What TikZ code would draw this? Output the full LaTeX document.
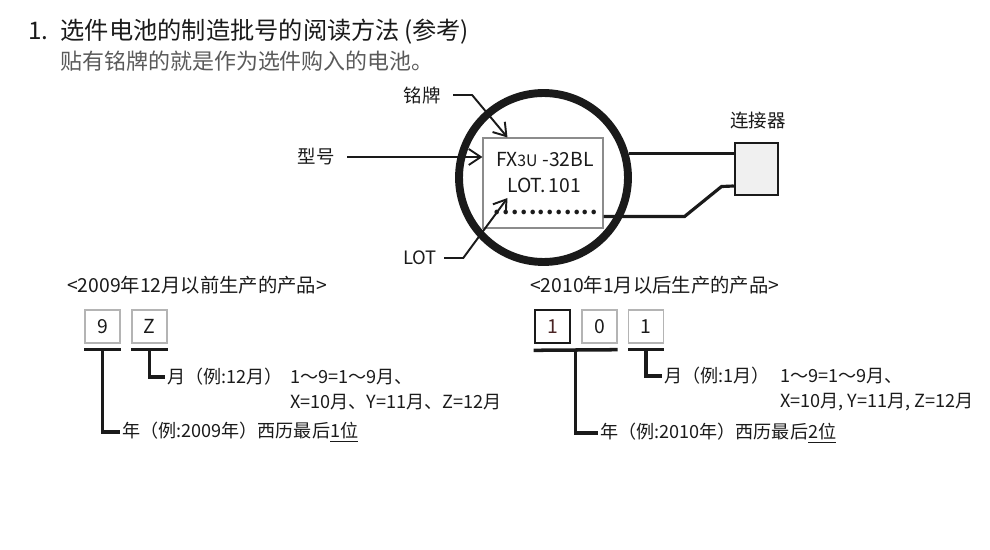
\documentclass[tikz,border=0pt]{standalone}
\usepackage{fontspec}
\setmainfont{Noto Sans CJK SC}
\usetikzlibrary{arrows.meta,positioning}
\definecolor{ink}{HTML}{1A1A1A}
\definecolor{subink}{HTML}{5A5A5A}
\definecolor{frame}{HTML}{8C8C8C}
\definecolor{pale}{HTML}{B4B4B4}
\definecolor{connfill}{HTML}{F0F0F0}
\definecolor{darkred}{HTML}{4A2424}
\tikzset{callout/.style={-{Straight Barb[length=2.4mm,width=3.2mm]}, line width=1.1pt, color=ink}, wire/.style={line width=1.8pt, color=ink}, bar/.style={line width=2pt, color=ink}, digit/.style={draw=pale, line width=.8pt, minimum width=.7cm, minimum height=.66cm, inner sep=0pt, font=\fontsize{11}{13}\selectfont, text=ink}, lab/.style={font=\fontsize{10.5}{13}\selectfont, text=ink, inner sep=1pt}, head/.style={lab, font=\fontsize{11}{13}\selectfont, anchor=west}, note/.style={font=\fontsize{10.3}{14.2}\selectfont, text=ink, inner sep=1pt, anchor=west, align=left}}

\begin{document}
\begin{tikzpicture}[x=.02cm, y=-.02cm]
\useasboundingbox (0,0) rectangle (990,550);
% heading
\node[anchor=west, inner sep=0pt, text=ink, font=\fontsize{13.8}{16}\selectfont] (title) at (28,32) {1.\hspace{.5em}选件电池的制造批号的阅读方法\,(参考)};
\node[anchor=west, inner sep=0pt, text=subink, font=\fontsize{12.5}{15}\selectfont] (subtitle) at (60,61) {贴有铭牌的就是作为选件购入的电池。};
% battery with nameplate
\node[circle, draw=ink, line width=4.5pt, minimum size=3.38cm, inner sep=0pt] (battery) at (543.5,177.5) {};
\node[draw=frame, line width=.6pt, minimum width=2.4cm, minimum height=1.8cm] (plate) at (543,183) {};
\node[lab, font=\fontsize{11}{13}\selectfont] (model) at (545,160) {FX{\fontsize{9}{10}\selectfont 3U}\hspace{.25em}-32BL};
\node[lab, font=\fontsize{11}{13}\selectfont] (lot) at (544,185) {LOT.\,101};
\node[lab, font=\fontsize{12}{13}\selectfont\bfseries] (dots) at (546,212) {.\kern.8pt.\kern.8pt.\kern.8pt.\kern.8pt.\kern.8pt.\kern.8pt.\kern.8pt.\kern.8pt.\kern.8pt.\kern.8pt.\kern.8pt.};
\node[lab, draw=ink, line width=1.4pt, fill=connfill, minimum width=.86cm, minimum height=1.04cm] (conn) at (756.5,169) {};
\node[lab] (connlab) at (758,121) {连接器};
\draw[wire] (battery.16) -- (battery.16 -| conn.west);
\draw[wire] ([yshift=.24cm]plate.south east) -- ++(81,0) -- ++(37,-30) -- ([yshift=-.34cm]conn.west);
% callouts
\node[lab] (mingpai) at (422,95) {铭牌};
\node[lab] (xinghao) at (316,157) {型号};
\node[lab] (lotlab) at (420,258) {LOT};
\draw[callout] ([xshift=6pt]mingpai.east) -- ++(19,0) -- ([xshift=.5cm]plate.north west);
\draw[callout] ([xshift=6pt]xinghao.east) -- (xinghao -| plate.west);
\draw[callout] ([xshift=3pt]lotlab.east) -- ++(19,0) -- ([xshift=.5cm,yshift=-.3cm]plate.west);
% up to 2009/12
\node[head] (oldhead) at (65,285) {<2009年12月以前生产的产品>};
\node[digit] (d9) at (102.5,326.5) {9}; \node[digit] (dZ) at (149.5,326.5) {Z};
\draw[bar] ([yshift=-.12cm]d9.south west) -- coordinate (barY) ([yshift=-.12cm]d9.south east);
\draw[bar] ([yshift=-.12cm]dZ.south west) -- coordinate (barM) ([yshift=-.12cm]dZ.south east);
\node[note] (yearA) at (120,432) {年（例:2009年）西历最后\underline{1位}};
\node[note] (monA) at (165,377) {月（例:12月）};
\node[note] (codeA) at (288,389.5) {1～9=1～9月、\\X=10月、Y=11月、Z=12月};
\draw[bar] (barY) |- (yearA.west); \draw[bar] (barM) |- (monA.west);
% from 2010/1
\node[head] (newhead) at (528,285) {<2010年1月以后生产的产品>};
\node[digit, draw=ink, line width=1.5pt, text=darkred] (b1) at (552.5,326.5) {1};
\node[digit] (b0) at (599.5,326.5) {0}; \node[digit] (b1m) at (646,326.5) {1};
\draw[bar] ([yshift=-.12cm]b1.south west) -- coordinate (barYB) ([yshift=-.12cm]b0.south east);
\draw[bar] ([yshift=-.12cm]b1m.south west) -- coordinate (barMB) ([yshift=-.12cm]b1m.south east);
\node[note] (yearB) at (598,433) {年（例:2010年）西历最后\underline{2位}};
\node[note] (monB) at (662,376) {月（例:1月）};
\node[note] (codeB) at (778,389.5) {1～9=1～9月、\\X=10月, Y=11月, Z=12月};
\draw[bar] (barYB) |- (yearB.west); \draw[bar] (barMB) |- (monB.west);
\end{tikzpicture}
\end{document}
